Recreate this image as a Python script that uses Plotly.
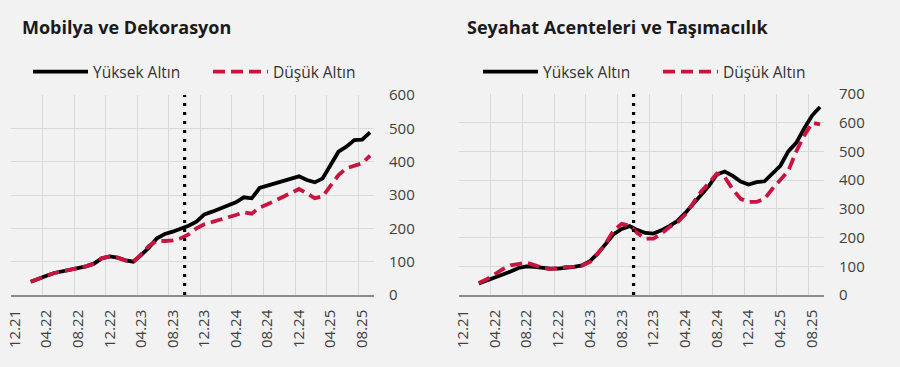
import plotly.graph_objects as go

# ---------------- data ----------------
months = ["12.21"] + [f"{m:02d}.{y}" for y in (22, 23, 24, 25) for m in range(1, 13)][:45]
tick_labels = ["12.21", "04.22", "08.22", "12.22", "04.23", "08.23", "12.23",
               "04.24", "08.24", "12.24", "04.25", "08.25"]
data_months = months[2:]          # 02.22 ... 09.25
event_month = "10.23"

mobilya_yuksek = [40, 50, 58, 66, 71, 76, 80, 86, 94, 110, 116, 112, 104, 100, 120, 143,
                  170, 183, 190, 198, 208, 220, 242, 250, 260, 270, 278, 293, 290, 321,
                  328, 335, 340, 348, 356, 345, 338, 350, 388, 430, 445, 465, 466, 488]
mobilya_dusuk = [40, 50, 58, 66, 71, 76, 80, 86, 94, 110, 116, 112, 104, 100, 122, 148,
                 163, 162, 164, 170, 182, 200, 212, 220, 226, 233, 240, 248, 244, 262,
                 272, 282, 295, 306, 318, 305, 290, 296, 330, 360, 380, 388, 395, 418]
seyahat_yuksek = [40, 50, 60, 70, 82, 94, 100, 98, 94, 92, 92, 94, 98, 103, 118, 145,
                  180, 212, 230, 240, 226, 216, 214, 225, 240, 257, 285, 318, 350, 380,
                  420, 430, 415, 395, 385, 393, 396, 425, 450, 500, 530, 580, 625, 655]
seyahat_dusuk = [42, 55, 72, 90, 103, 108, 113, 104, 94, 90, 95, 98, 98, 102, 115, 145,
                 180, 225, 248, 242, 215, 196, 196, 214, 236, 252, 280, 320, 360, 390,
                 423, 410, 368, 335, 324, 324, 335, 370, 400, 432, 500, 555, 600, 594]

titles = ["Mobilya ve Dekorasyon", "Seyahat Acenteleri ve Taşımacılık"]
series_names = ["Yüksek Altın", "Düşük Altın"]

# ---------------- style ----------------
BG = "#f2f2f2"
GRID = "#d9d9d9"
BLACK = "#000000"
RED = "#c8143f"
TXT = "#404040"
FONT = "Open Sans"

x_idx = [months.index(m) for m in data_months]
tickvals = [months.index(t) for t in tick_labels]
grid_vals = [v - 0.5 for v in range(0, len(months), 4)]
event_x = months.index(event_month) - 0.5

fig = go.Figure()

panels = [
    (mobilya_yuksek, mobilya_dusuk, "x", "y", "legend"),
    (seyahat_yuksek, seyahat_dusuk, "x2", "y2", "legend2"),
]
for hi, lo, xa, ya, lg in panels:
    fig.add_trace(go.Scatter(x=x_idx, y=hi, name=series_names[0], mode="lines",
                             line=dict(color=BLACK, width=3.8), xaxis=xa, yaxis=ya,
                             legend=lg))
    fig.add_trace(go.Scatter(x=x_idx, y=lo, name=series_names[1], mode="lines",
                             line=dict(color=RED, width=3.8, dash="12px,6px"),
                             xaxis=xa, yaxis=ya, legend=lg))

def xaxis_cfg(domain, anchor):
    return dict(domain=domain, anchor=anchor, range=[-0.5, len(months) - 0.5],
                tickmode="array", tickvals=tickvals, ticktext=tick_labels,
                tickangle=-90, showgrid=False, zeroline=False, ticks="",
                tickfont=dict(family=FONT, size=15, color=TXT),
                showline=True, linecolor="#8c8c8c", linewidth=1.5,
                ticklabelstandoff=7, automargin=False,
                minor=dict(tickmode="array", tickvals=grid_vals, showgrid=True,
                           gridcolor=GRID, gridwidth=1, ticks=""))

def yaxis_cfg(domain, anchor, ymax):
    return dict(domain=domain, anchor=anchor, side="right", range=[0, ymax],
                dtick=100, showgrid=True, gridcolor=GRID, gridwidth=1,
                zeroline=False, ticks="", showline=False, automargin=False,
                tickfont=dict(family=FONT, size=15, color=TXT),
                ticklabelstandoff=14)

H = 367
W = 900
legend_common = dict(orientation="h", xanchor="left", yanchor="middle",
                     bgcolor="rgba(0,0,0,0)",
                     font=dict(family=FONT, size=15.5, color="#333333"),
                     itemwidth=55, entrywidth=110, traceorder="normal")
fig.update_layout(
    width=W, height=H, autosize=False,
    paper_bgcolor=BG, plot_bgcolor=BG,
    margin=dict(l=0, r=0, t=0, b=0, autoexpand=False),
    font=dict(family=FONT, color=TXT),
    xaxis=xaxis_cfg([11 / W, 374 / W], "y"),
    yaxis=yaxis_cfg([1 - 295 / H, 1 - 95 / H], "x", 600),
    xaxis2=xaxis_cfg([459 / W, 824 / W], "y2"),
    yaxis2=yaxis_cfg([1 - 295 / H, 1 - 94 / H], "x2", 700),
    legend=dict(x=28 / W, y=1 - 72 / H, **legend_common),
    legend2=dict(x=478 / W, y=1 - 72 / H, **legend_common),
    showlegend=True,
)

for xref, yref in [("x", "y domain"), ("x2", "y2 domain")]:
    fig.add_shape(type="line", xref=xref, yref=yref, x0=event_x, x1=event_x, y0=0, y1=1,
                  line=dict(color="#000000", width=3.2, dash="3px,6px"))

fig.add_annotation(text=f"<b>{titles[0]}</b>", xref="paper", yref="paper",
                   x=20 / W, y=1 - 27 / H, xanchor="left", yanchor="middle",
                   showarrow=False, font=dict(family=FONT, size=18, color="#1a1a1a"))
fig.add_annotation(text=f"<b>{titles[1]}</b>", xref="paper", yref="paper",
                   x=465 / W, y=1 - 27 / H, xanchor="left", yanchor="middle",
                   showarrow=False, font=dict(family=FONT, size=18, color="#1a1a1a"))

fig.write_html("out.html", config={"responsive": False, "displayModeBar": False},
               post_script="document.body.style.margin='0';")
